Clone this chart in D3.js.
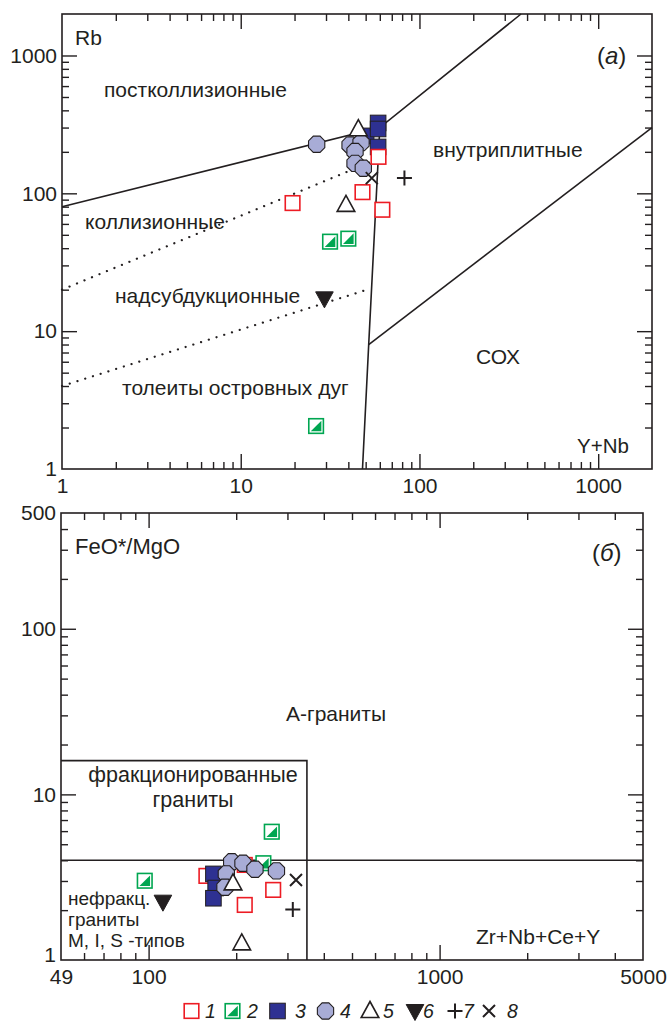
<!DOCTYPE html>
<html><head><meta charset="utf-8">
<script src="https://cdn.jsdelivr.net/npm/d3@7"></script>
<style>
body{margin:0;background:#fff}
svg{display:block}
text{font-family:"Liberation Sans",Arial,sans-serif;fill:#231f20}
</style>
</head><body>
<svg id="c" width="668" height="1021"></svg>
<script>
// ---------------- DATA ----------------
// Panel (a): Rb vs Y+Nb
const topXTicks = [1, 10, 100, 1000];
const topXTickLabels = ["1", "10", "100", "1000"];
const topYTicks = [1, 10, 100, 1000];
const topYTickLabels = ["1", "10", "100", "1000"];
// Panel (б): FeO*/MgO vs Zr+Nb+Ce+Y
const botXTicks = [50, 100, 1000, 5000];
const botXTickLabels = ["49", "100", "1000", "5000"];
const botYTicks = [1, 10, 100, 500];
const botYTickLabels = ["1", "10", "100", "500"];

// series points [x, y]
const topS1 = [[19.5, 85], [48, 102], [62, 76], [59, 184]];
const topS2 = [[31.6, 44.6], [40, 46.9], [26.4, 2.05]];
const topS3 = [[50.3, 261], [58.7, 324], [58.7, 293], [58.7, 217]];
const topS4 = [[26.6, 227], [40.9, 224], [47.1, 233], [43.6, 201], [43.6, 165], [48.5, 152]];
const topS5 = [[45.5, 292], [38.8, 82.4]];
const topS6 = [[29.4, 17.3]];
const topS7 = [[82.4, 129]];
const topS8 = [[54.1, 129]];

const botS1 = [[158, 3.22], [214, 3.75], [268, 2.65], [214, 2.15]];
const botS2 = [[265, 5.95], [248, 3.84], [97, 3.01]];
const botS3 = [[167, 3.31], [170, 2.72], [167, 2.36]];
const botS4 = [[193, 3.92], [211, 3.84], [232, 3.53], [275, 3.45], [185, 3.31], [183, 2.75]];
const botS5 = [[195, 2.9], [209, 1.26]];
const botS6 = [[112, 2.25]];
const botS7 = [[313, 2.02]];
const botS8 = [[321, 3.04]];

// discrimination boundaries
const topSolid1 = [[1, 80], [60, 300], [370, 2000]];
const topSolid2 = [[48, 1], [52, 8], [60, 300]];
const topSolid3 = [[52, 8], [2000, 300]];
const topDot1 = [[1, 20], [53, 168]];
const topDot2 = [[1, 4], [51, 20]];
const botBox = [[50, 16], [350, 16], [350, 1]];
const botLine4 = [[50, 4], [5000, 4]];

const legendLabels = ["1", "2", "3", "4", "5", "6", "7", "8"];

// ---------------- DRAW ----------------
const svg = d3.select("#c");
const INK = "#231f20";
const RED = "#ed1c24", GREEN = "#00a651", BLUE = "#2e3192", LAV = "#a8acd6";
const FS = 21;

const xT = d3.scaleLog().domain([1, 2000]).range([62, 652]);
const yT = d3.scaleLog().domain([1, 2000]).range([469, 14]);
const xB = d3.scaleLog().domain([50, 5000]).range([61, 643]);
const yB = d3.scaleLog().domain([1, 500]).range([960, 513]);

function minorTicks(dom) {
  const out = [];
  for (let e = -1; e <= 4; e++) for (let m = 2; m <= 9; m++) {
    const v = m * Math.pow(10, e);
    if (v > dom[0] * 1.0001 && v < dom[1] * 0.9999) out.push(v);
  }
  return out;
}

function frame(x, y, xt, xl, yt, yl, firstYLabelShift) {
  const g = svg.append("g");
  const [x0, x1] = x.range(), [y0, y1] = y.range();
  const xMin = minorTicks(x.domain()), yMin = minorTicks(y.domain());
  const xMaj = xt.filter(v => v > x.domain()[0] * 1.001 && v < x.domain()[1] * 0.999);
  const yMaj = yt.filter(v => v > y.domain()[0] * 1.001 && v < y.domain()[1] * 0.999);
  const mk = (axis, tr) => {
    const a = g.append("g").attr("transform", tr).call(axis);
    a.select(".domain").remove();
    a.selectAll("line").attr("stroke", INK).attr("stroke-width", 1.4);
    return a;
  };
  mk(d3.axisBottom(x).tickValues(xMin).tickSize(-7).tickFormat(""), `translate(0,${y0})`);
  mk(d3.axisTop(x).tickValues(xMin).tickSize(-7).tickFormat(""), `translate(0,${y1})`);
  mk(d3.axisLeft(y).tickValues(yMin).tickSize(-7).tickFormat(""), `translate(${x0},0)`);
  mk(d3.axisRight(y).tickValues(yMin).tickSize(-7).tickFormat(""), `translate(${x1},0)`);
  mk(d3.axisBottom(x).tickValues(xMaj).tickSize(-15).tickFormat(""), `translate(0,${y0})`);
  mk(d3.axisTop(x).tickValues(xMaj).tickSize(-15).tickFormat(""), `translate(0,${y1})`);
  mk(d3.axisLeft(y).tickValues(yMaj).tickSize(-15).tickFormat(""), `translate(${x0},0)`);
  mk(d3.axisRight(y).tickValues(yMaj).tickSize(-15).tickFormat(""), `translate(${x1},0)`);
  const la = mk(d3.axisBottom(x).tickValues(xt).tickSize(0).tickPadding(9)
      .tickFormat((d, i) => xl[i]), `translate(0,${y0})`);
  la.selectAll("text").attr("font-size", FS).attr("font-family", "Liberation Sans, Arial, sans-serif").attr("fill", INK);
  const lb = mk(d3.axisLeft(y).tickValues(yt).tickSize(0).tickPadding(5)
      .tickFormat((d, i) => yl[i]), `translate(${x0},0)`);
  lb.selectAll("text").attr("font-size", FS).attr("font-family", "Liberation Sans, Arial, sans-serif").attr("fill", INK);
  if (firstYLabelShift) lb.selectAll("text").filter((d, i) => i === 0).attr("dy", "0.05em");
  g.append("rect").attr("x", x0).attr("y", y1).attr("width", x1 - x0).attr("height", y0 - y1)
    .attr("fill", "none").attr("stroke", INK).attr("stroke-width", 1.6);
  return g;
}

function polyline(x, y, pts, dotted) {
  const line = d3.line().x(d => x(d[0])).y(d => y(d[1]));
  const p = svg.append("path").attr("d", line(pts)).attr("fill", "none")
    .attr("stroke", INK).attr("stroke-width", dotted ? 2.2 : 1.6);
  if (dotted) p.attr("stroke-dasharray", "0.1 8").attr("stroke-linecap", "round");
}

function marker(g, type) {
  const s = 7.3;
  switch (type) {
    case 1:
      g.append("rect").attr("x", -s).attr("y", -s).attr("width", 2 * s).attr("height", 2 * s)
        .attr("fill", "#fff").attr("stroke", RED).attr("stroke-width", 1.6); break;
    case 2:
      g.append("rect").attr("x", -s).attr("y", -s).attr("width", 2 * s).attr("height", 2 * s)
        .attr("fill", "#fff").attr("stroke", GREEN).attr("stroke-width", 1.6);
      g.append("path").attr("d", `M${-s + 2},${s - 2}L${s - 2},${-s + 2}L${s - 2},${s - 2}Z`).attr("fill", GREEN); break;
    case 3:
      g.append("rect").attr("x", -s - 0.5).attr("y", -s - 0.5).attr("width", 2 * s + 1).attr("height", 2 * s + 1)
        .attr("fill", BLUE).attr("stroke", INK).attr("stroke-width", 1); break;
    case 4: {
      const r = 8.8;
      const pts = d3.range(8).map(i => { const a = Math.PI / 8 + i * Math.PI / 4; return [r * Math.cos(a), r * Math.sin(a)]; });
      g.append("path").attr("d", "M" + pts.join("L") + "Z").attr("fill", LAV).attr("stroke", INK).attr("stroke-width", 1.1); break;
    }
    case 5:
      g.append("path").attr("d", "M0,-9.5L8.8,6.5L-8.8,6.5Z").attr("fill", "#fff").attr("stroke", INK).attr("stroke-width", 1.6); break;
    case 6:
      g.append("path").attr("d", "M-8.8,-6.5L8.8,-6.5L0,9.5Z").attr("fill", INK).attr("stroke", INK).attr("stroke-width", 1); break;
    case 7:
      g.append("path").attr("d", "M-7.5,0H7.5M0,-7.5V7.5").attr("stroke", INK).attr("stroke-width", 2); break;
    case 8:
      g.append("path").attr("d", "M-6,-6L6,6M6,-6L-6,6").attr("stroke", INK).attr("stroke-width", 2); break;
  }
}

function points(x, y, data, type) {
  data.forEach(d => {
    const g = svg.append("g").attr("transform", `translate(${x(d[0])},${y(d[1])})`);
    marker(g, type);
  });
}

function label(txt, px, py, size, anchor) {
  const t = svg.append("text").attr("x", px).attr("y", py).attr("font-size", size).text(txt);
  if (anchor) t.attr("text-anchor", anchor);
  return t;
}
function panelTag(letter, px, py) {
  const t = svg.append("text").attr("x", px).attr("y", py).attr("font-size", 24);
  t.append("tspan").text("(");
  t.append("tspan").attr("font-style", "italic").text(letter);
  t.append("tspan").text(")");
}

// ---- panel (a)
frame(xT, yT, topXTicks, topXTickLabels, topYTicks, topYTickLabels, false);
polyline(xT, yT, topSolid1);
polyline(xT, yT, topSolid2);
polyline(xT, yT, topSolid3);
polyline(xT, yT, topDot1, true);
polyline(xT, yT, topDot2, true);

label("Rb", 75, 45, 21);
panelTag("а", 597, 64);
label("постколлизионные", 104, 97, 21);
label("внутриплитные", 433, 157, 21);
label("коллизионные", 85, 229, 21);
label("надсубдукционные", 115, 303, 21);
label("толеиты островных дуг", 122, 395, 21);
label("СОХ", 476, 364, 21);
label("Y+Nb", 577, 453, 20.5);

[[topS3, 3], [topS4, 4], [topS5, 5], [topS1, 1], [topS2, 2], [topS6, 6], [topS7, 7], [topS8, 8]]
  .forEach(([d, t]) => points(xT, yT, d, t));

// ---- panel (б)
frame(xB, yB, botXTicks, botXTickLabels, botYTicks, botYTickLabels, true);
polyline(xB, yB, botBox);
polyline(xB, yB, botLine4);

label("FeO*/MgO", 75, 554, 22);
panelTag("б", 592, 561);
label("А-граниты", 286, 721, 21);
label("фракционированные", 193, 782, 21.5, "middle");
label("граниты", 193, 807, 21.5, "middle");
label("нефракц.", 68, 905, 19);
label("граниты", 68, 926, 19);
label("M, I, S -типов", 68, 947, 19);
label("Zr+Nb+Ce+Y", 476, 944, 21);

[[botS1, 1], [botS2, 2], [botS3, 3], [botS4, 4], [botS5, 5], [botS6, 6], [botS7, 7], [botS8, 8]]
  .forEach(([d, t]) => points(xB, yB, d, t));

// ---- legend
const legCx = [191.5, 232.5, 277.5, 325.5, 370, 415, 455, 489];
const legTx = [205, 247, 295, 340, 383, 423, 463, 507];
legendLabels.forEach((lab, i) => {
  const g = svg.append("g").attr("transform", `translate(${legCx[i]},1011)`);
  marker(g, i + 1);
  svg.append("text").attr("x", legTx[i]).attr("y", 1018).attr("font-size", 19.5)
    .attr("font-style", "italic").text(lab);
});
</script>
</body></html>
